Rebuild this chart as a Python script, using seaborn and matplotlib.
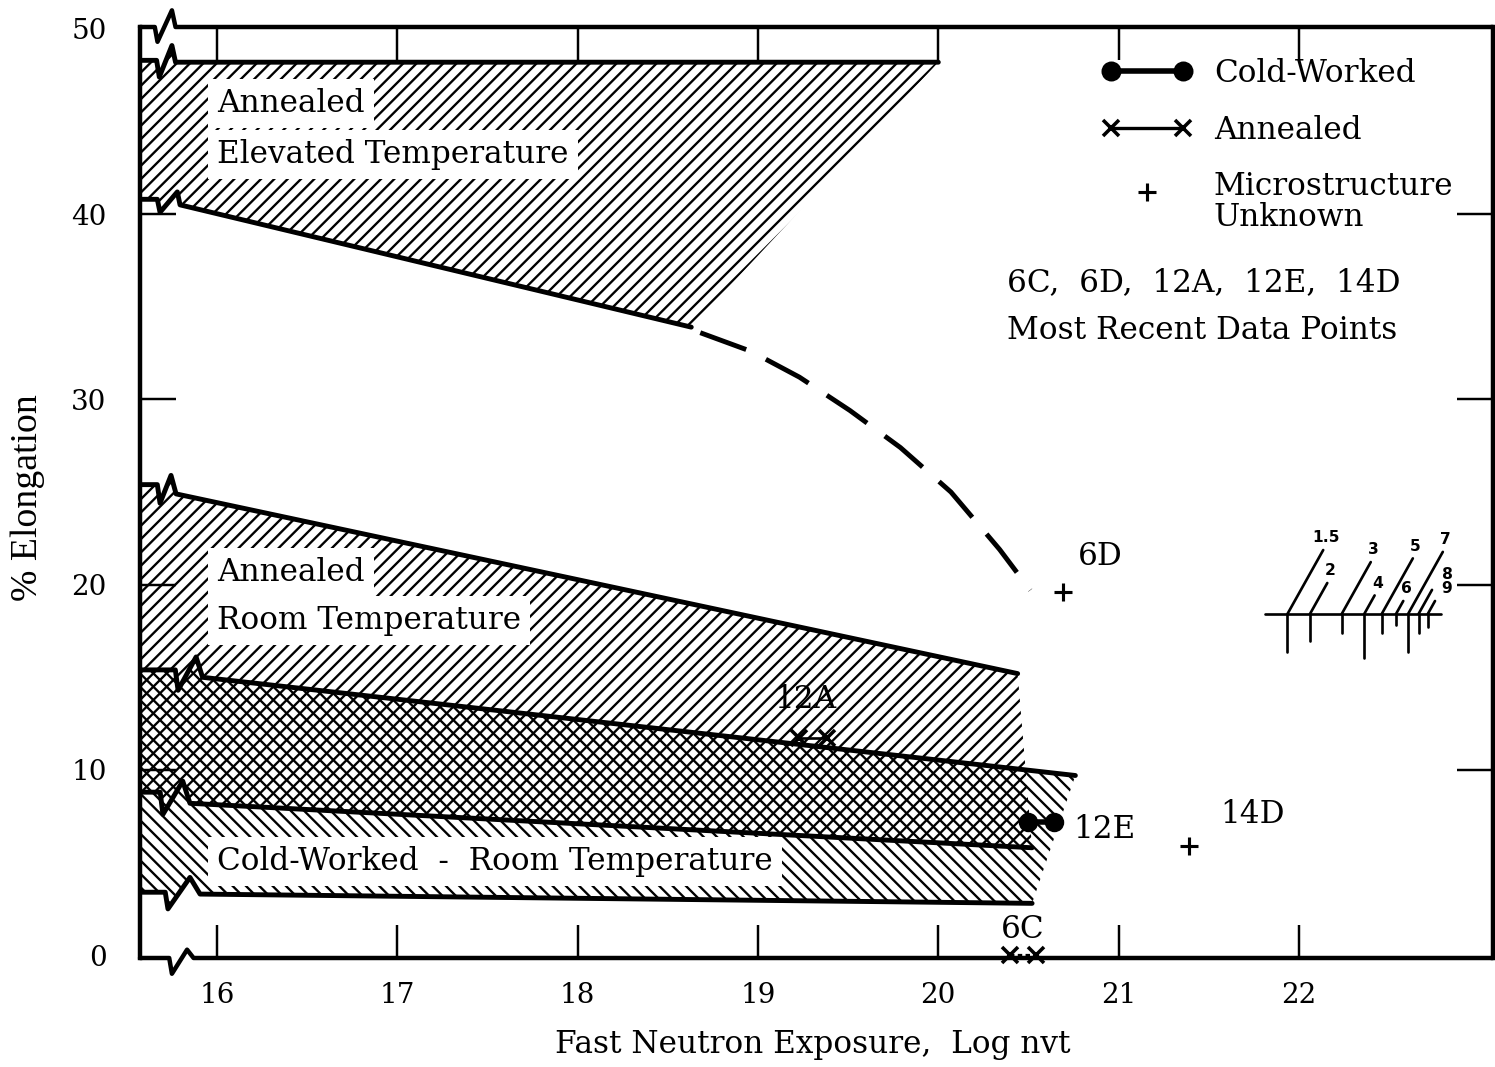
import numpy as np
import matplotlib
matplotlib.use("Agg")
import matplotlib.pyplot as plt
import seaborn as sns
from matplotlib.lines import Line2D
from matplotlib.legend_handler import HandlerLine2D

# band edges: [value left of the axis break, value just after the break, end exposure, end value]
elevated_upper = [48.3, 48.2, 20.0, 48.2]
elevated_lower = [40.8, 40.5, 18.63, 33.9]
annealed_rt_upper = [25.4, 24.9, 20.44, 15.2]
cold_worked_upper = [15.4, 15.0, 20.76, 9.7]
annealed_rt_lower = [8.8, 8.2, 20.52, 5.8]
cold_worked_lower = [3.4, 3.3, 20.52, 2.8]

# dashed extrapolation of the elevated temperature band
trend_x = [18.68, 18.96, 19.23, 19.51, 19.79, 20.07, 20.34, 20.51]
trend_y = [33.6, 32.6, 31.2, 29.4, 27.4, 25.0, 21.9, 19.7]

# most recent data points
cw_12e_x = [20.50, 20.64]
cw_12e_y = [7.2, 7.2]
an_12a_x = [19.23, 19.38]
an_12a_y = [11.7, 11.7]
an_6c_x = [20.40, 20.54]
an_6c_y = [0.0, 0.0]
unk_x = [20.69, 21.39]
unk_y = [19.6, 5.9]

# log mantissa scale drawn at the right
scale_values = [1.5, 2, 3, 4, 5, 6, 7, 8, 9]
scale_labels = ["1.5", "2", "3", "4", "5", "6", "7", "8", "9"]

x_ticks = [16, 17, 18, 19, 20, 21, 22]
y_ticks = [0, 10, 20, 30, 40, 50]

# ---- layout / style ----
XMIN, XMAX = 15.573, 23.076
YMIN, YMAX = -0.15, 50.1
# (dip, peak, resume) of the break mark on each edge
breaks = {
    "elevated_upper": (15.68, 15.75, 15.77),
    "elevated_lower": (15.684, 15.78, 15.795),
    "annealed_rt_upper": (15.684, 15.745, 15.773),
    "cold_worked_upper": (15.784, 15.884, 15.92),
    "annealed_rt_lower": (15.70, 15.81, 15.85),
    "cold_worked_lower": (15.728, 15.85, 15.906),
}
tick_drop = [2.05, 1.46, 1.03, 2.37, 1.03, 0.6, 2.05, 1.03, 0.7]
leader_rise = [3.45, 1.67, 2.8, 1.0, 3.0, 0.7, 3.35, 1.3, 0.7]
label_shift_x = [0, 0, 0, 0, 0, 0, 0, 0.07, 0.05]
label_shift_y = [0, 0, 0, 0, 0, 0, 0, 0.2, 0.0]

sns.set_theme(style="ticks")
plt.rcParams["font.family"] = ["DejaVu Serif", "DejaVu Sans"]
plt.rcParams["text.color"] = "black"
plt.rcParams["axes.labelcolor"] = "black"
plt.rcParams["hatch.linewidth"] = 1.05
plt.rcParams["hatch.color"] = "black"

DPI = 160
fig = plt.figure(figsize=(1495 / DPI, 1067 / DPI), dpi=DPI)
ax = fig.add_axes([140 / 1495, 1 - 958 / 1067, 1353 / 1495, 931 / 1067])
ax.set_xlim(XMIN, XMAX)
ax.set_ylim(YMIN, YMAX)


def broken_edge(edge, brk, amp=1.0):
    y_left, y_start, x_end, y_end = edge
    dip, peak, resume = brk
    xs = [XMIN, dip - 0.015, dip, peak, resume, x_end]
    ys = [y_left, y_left, y_left - amp, y_start + amp, y_start, y_end]
    return np.array(xs), np.array(ys)


edges = {
    "elevated_upper": broken_edge(elevated_upper, breaks["elevated_upper"], 0.9),
    "elevated_lower": broken_edge(elevated_lower, breaks["elevated_lower"], 0.7),
    "annealed_rt_upper": broken_edge(annealed_rt_upper, breaks["annealed_rt_upper"]),
    "cold_worked_upper": broken_edge(cold_worked_upper, breaks["cold_worked_upper"], 1.1),
    "annealed_rt_lower": broken_edge(annealed_rt_lower, breaks["annealed_rt_lower"], 1.2),
    "cold_worked_lower": broken_edge(cold_worked_lower, breaks["cold_worked_lower"], 0.9),
}


def band(top, bottom, hatch):
    xt, yt = edges[top]
    xb, yb = edges[bottom]
    ax.fill(np.r_[xt, xb[::-1]], np.r_[yt, yb[::-1]], facecolor="none",
            edgecolor="black", hatch=hatch, lw=0, zorder=1)


band("elevated_upper", "elevated_lower", "////")
band("annealed_rt_upper", "annealed_rt_lower", "////")
band("cold_worked_upper", "cold_worked_lower", "\\\\\\\\")

for name, (xs, ys) in edges.items():
    sns.lineplot(x=xs, y=ys, sort=False, estimator=None, color="black",
                 lw=2.2, ax=ax, zorder=3)

sns.lineplot(x=trend_x, y=trend_y, sort=False, estimator=None, color="black",
             lw=2.2, linestyle=(0, (10, 4.5)), ax=ax)

# data points
sns.lineplot(x=cw_12e_x, y=cw_12e_y, estimator=None, color="black", lw=2.5,
             marker="o", ms=8, mec="black", ax=ax, zorder=4)
sns.lineplot(x=an_12a_x, y=an_12a_y, estimator=None, color="black", lw=1.2,
             marker="x", ms=7, mew=1.6, mec="black", ax=ax, zorder=4)
ax.plot(an_6c_x, an_6c_y, color="black", lw=1.0, ls=(0, (2, 1.5)), marker="x",
        ms=7, mew=1.6, clip_on=False, zorder=5)
sns.scatterplot(x=unk_x, y=unk_y, marker="+", s=60, color="black",
                linewidth=1.4, ax=ax, zorder=4)

label_kw = dict(fontsize=14, ha="center", va="center")
ax.text(20.90, 21.5, "6D", **label_kw)
ax.text(19.26, 13.8, "12A", **label_kw)
ax.text(20.92, 6.8, "12E", **label_kw)
ax.text(21.74, 7.6, "14D", **label_kw)
ax.text(20.47, 1.4, "6C", **label_kw)

# band captions
box = dict(facecolor="white", edgecolor="none", pad=4)
cap_kw = dict(fontsize=14, ha="left", va="center", bbox=box, zorder=3)
ax.text(16.0, 45.95, "Annealed", **cap_kw)
ax.text(16.0, 43.2, "Elevated Temperature", **cap_kw)
ax.text(16.0, 20.64, "Annealed", **cap_kw)
ax.text(16.0, 18.05, "Room Temperature", **cap_kw)
ax.text(16.0, 5.05, "Cold-Worked  -  Room Temperature", **cap_kw)

# log mantissa scale
nomo_x0 = 21.76
nomo_y = 18.42
pos = nomo_x0 + np.log10(scale_values)
ax.plot([21.81, 22.79], [nomo_y, nomo_y], color="black", lw=1.2)
for i, (p, lab) in enumerate(zip(pos, scale_labels)):
    d, r = tick_drop[i], leader_rise[i]
    ax.plot([p, p], [nomo_y, nomo_y - d], color="black", lw=1.2)
    dx = r * 0.0575
    ax.plot([p, p + dx], [nomo_y, nomo_y + r], color="black", lw=1.2)
    ax.text(p + dx + 0.015 + label_shift_x[i], nomo_y + r + 0.25 + label_shift_y[i],
            lab, fontsize=7, fontweight="bold", family="DejaVu Sans",
            ha="center", va="bottom")

# frame: top and bottom drawn by hand to carry the break marks
for side in ["top", "bottom"]:
    ax.spines[side].set_visible(False)
for side in ["left", "right"]:
    ax.spines[side].set_linewidth(2.0)
    ax.spines[side].set_color("black")
ax.plot([XMIN, 15.735, 15.75, 15.834, 15.87, XMAX],
        [YMIN, YMIN, YMIN - 0.85, YMIN + 0.45, YMIN, YMIN],
        color="black", lw=2.0, clip_on=False, zorder=2)
ax.plot([XMIN, 15.655, 15.67, 15.75, 15.77, XMAX],
        [YMAX, YMAX, YMAX - 0.8, YMAX + 0.9, YMAX, YMAX],
        color="black", lw=2.0, clip_on=False, zorder=2)

ax.set_xticks(x_ticks)
ax.set_yticks(y_ticks)
ax.tick_params(axis="x", direction="in", length=15, width=1.1, top=True,
               bottom=True, pad=11, labelsize=12.5, colors="black")
ax.tick_params(axis="y", direction="in", length=16, width=1.1, left=True,
               right=True, pad=15, labelsize=12.5, colors="black")
yt = ax.yaxis.get_major_ticks()
for t in (yt[0], yt[-1]):
    t.tick1line.set_visible(False)
    t.tick2line.set_visible(False)

ax.set_xlabel("Fast Neutron Exposure,  Log nvt", fontsize=14, va="center")
ax.xaxis.set_label_coords(0.497, -0.093)
ax.set_ylabel("% Elongation", fontsize=17, family="Liberation Serif",
              va="center")
ax.yaxis.set_label_coords(-0.083, 0.495)

# legend
cw_handle = Line2D([], [], color="black", lw=2.5, marker="o", ms=8)
an_handle = Line2D([], [], color="black", lw=1.5, marker="x", ms=7, mew=1.6)
unk_handle = Line2D([], [], color="black", ls="none", marker="+", ms=8, mew=1.4)
leg = ax.legend([cw_handle, an_handle, unk_handle],
                ["Cold-Worked", "Annealed", "Microstructure\nUnknown"],
                loc="upper left", bbox_to_anchor=(0.711, 0.967), frameon=False,
                numpoints=2, handlelength=2.9, handletextpad=0.7,
                labelspacing=0.83, borderpad=0, borderaxespad=0,
                prop=dict(family="DejaVu Serif", size=14),
                handler_map={unk_handle: HandlerLine2D(numpoints=1)})
for t in leg.get_texts():
    t.set_linespacing(1.0)
    t.set_color("black")
# the "+" sits level with the first line of its two-line label
plus = leg.legend_handles[2]
plus.set_ydata([v + 5 for v in plus.get_ydata()])

ax.text(0.6408, 0.725, "6C,  6D,  12A,  12E,  14D", transform=ax.transAxes,
        fontsize=14, ha="left", va="center")
ax.text(0.6408, 0.6735, "Most Recent Data Points", transform=ax.transAxes,
        fontsize=14, ha="left", va="center")

fig.savefig("out.png", dpi=DPI)
